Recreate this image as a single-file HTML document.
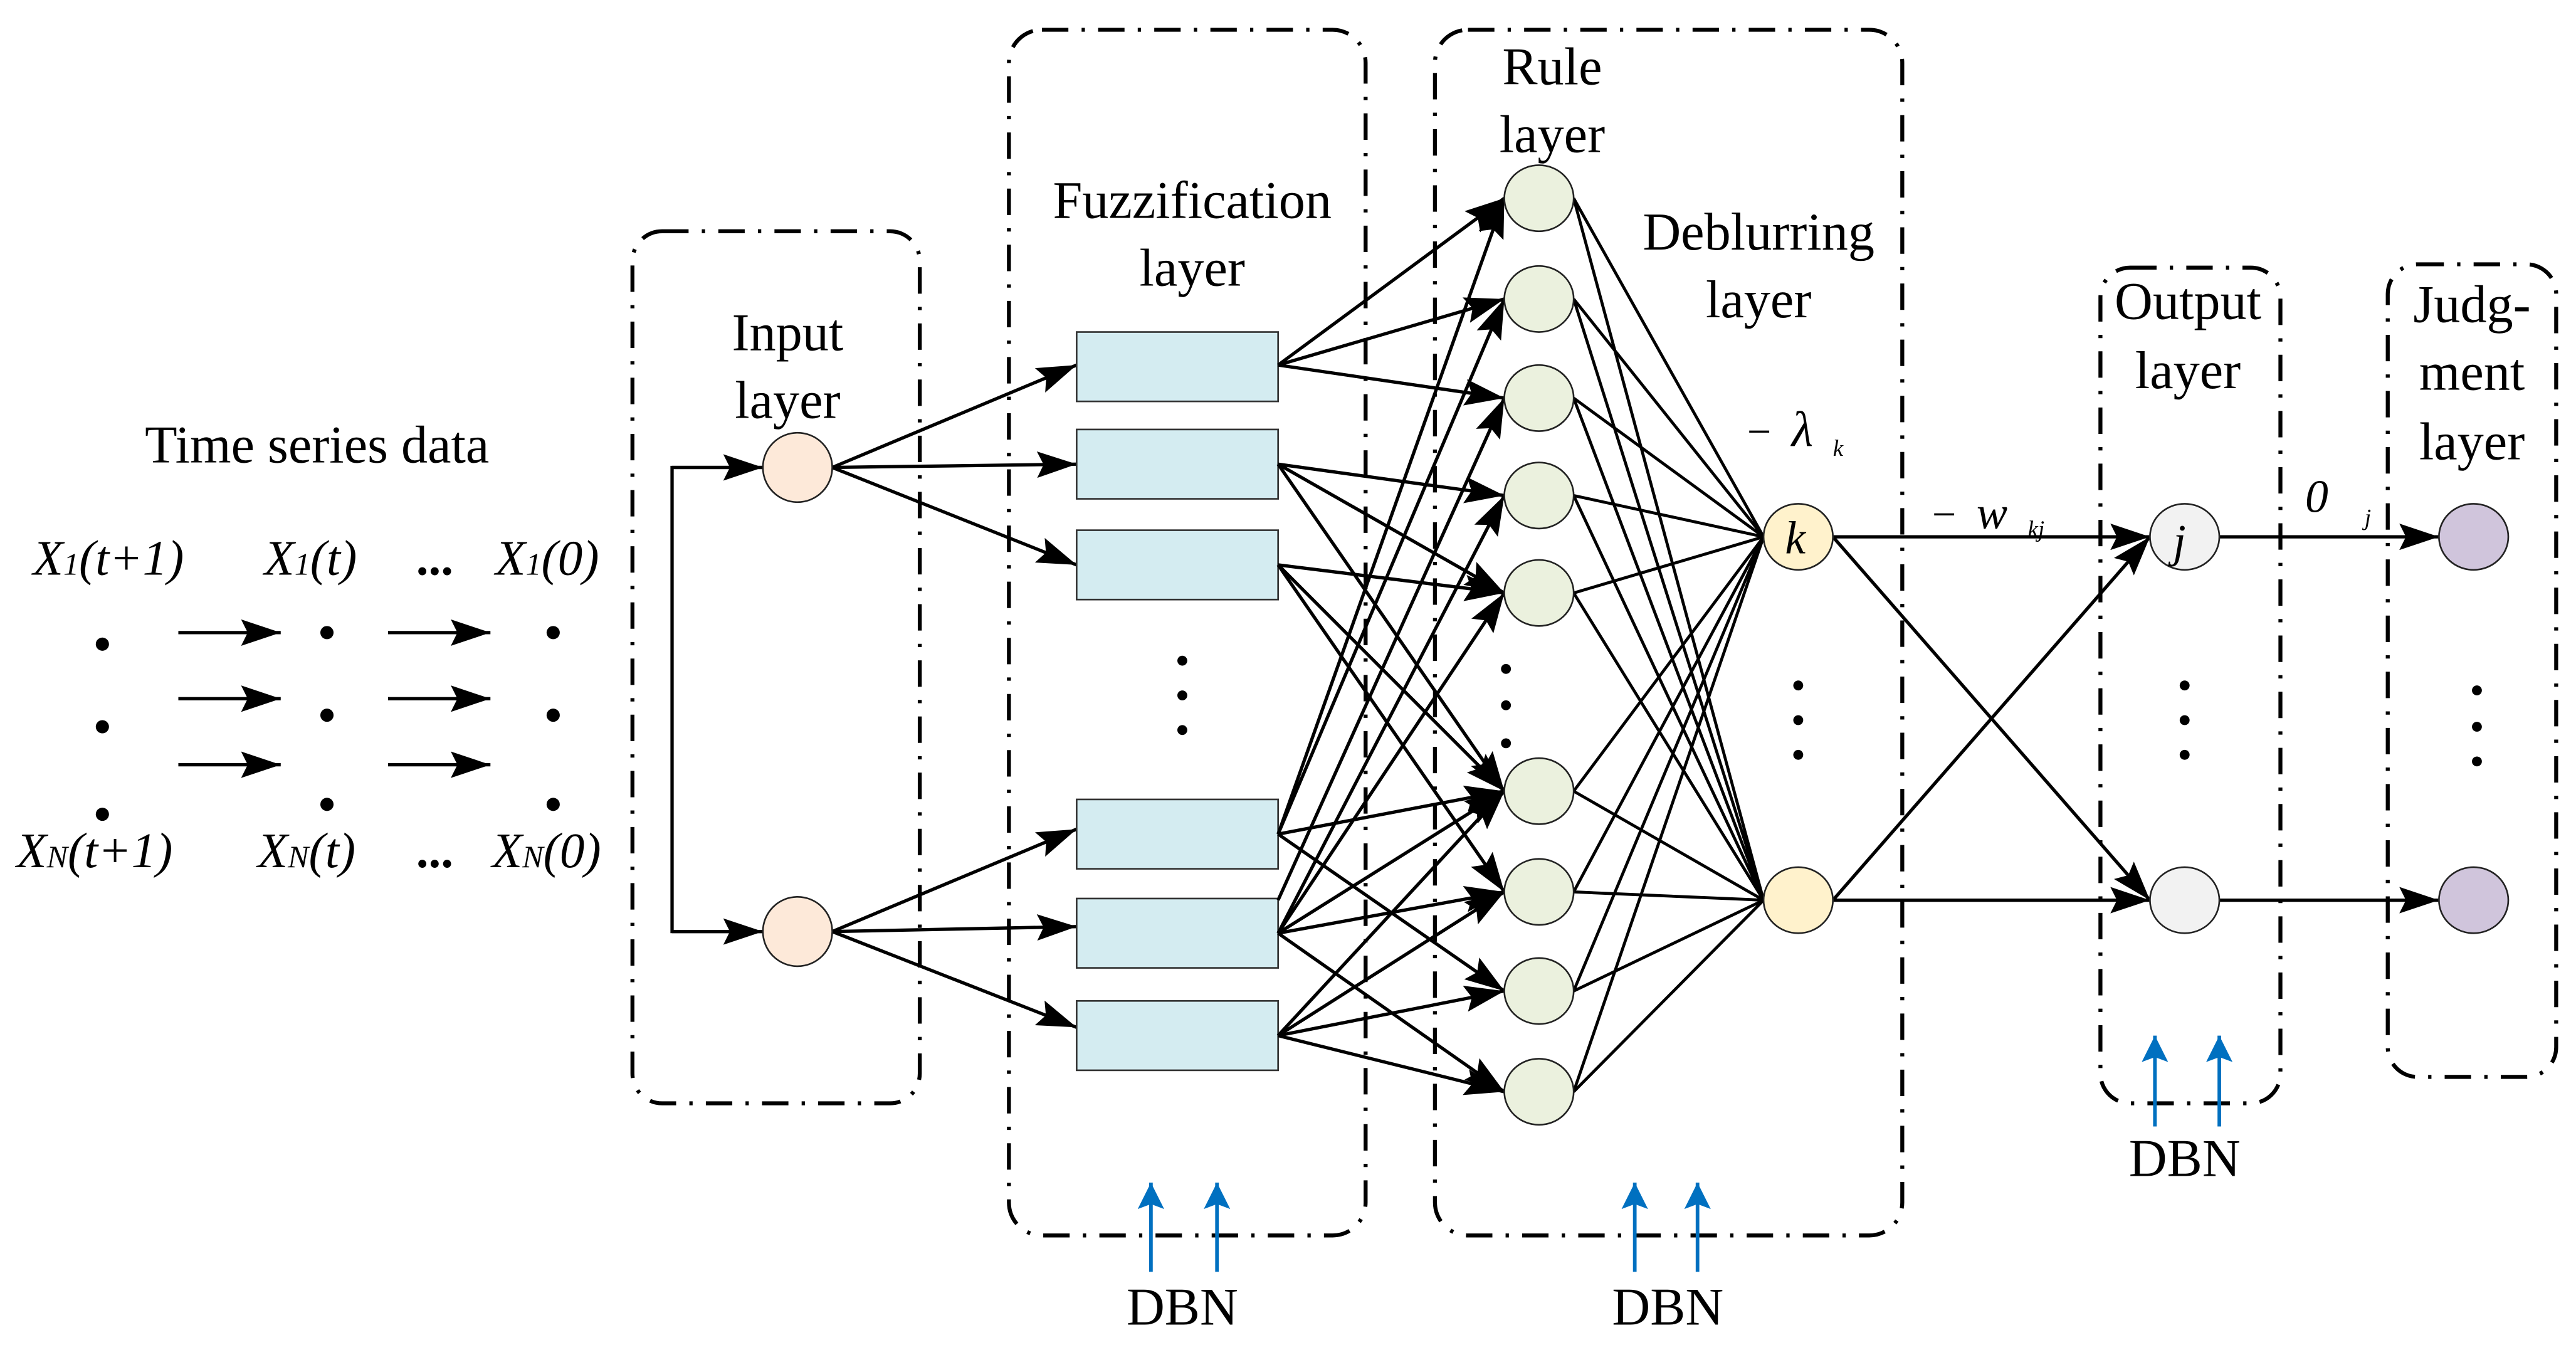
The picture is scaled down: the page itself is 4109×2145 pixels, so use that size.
<!DOCTYPE html>
<html><head><meta charset="utf-8"><style>
html,body{margin:0;padding:0;background:#fff;}
svg{display:block;}
text{font-family:"Liberation Serif",serif;fill:#000;}
</style></head><body>
<svg width="4109" height="2145" viewBox="0 0 1560 814.3" xmlns="http://www.w3.org/2000/svg">
<defs>
<marker id="a" markerUnits="userSpaceOnUse" markerWidth="26" markerHeight="16" refX="24" refY="8" orient="auto">
<path d="M0,0 L24,8 L0,16 L4,8 Z" fill="#000"/></marker>
<marker id="b" markerUnits="userSpaceOnUse" markerWidth="18" markerHeight="16" refX="16" refY="8" orient="auto">
<path d="M0,0 L16,8 L0,16 L3,8 Z" fill="#0070c0"/></marker>
</defs>
<g fill="none" stroke="#000" stroke-width="2.4" stroke-dasharray="16 8 2 8">
<rect x="383" y="140" width="174" height="528" rx="18"/>
<rect x="611" y="18" width="216" height="730" rx="20"/>
<rect x="869" y="18" width="283" height="730" rx="20"/>
<rect x="1272" y="162" width="109" height="506" rx="18"/>
<rect x="1446" y="160" width="102" height="492" rx="18"/>
</g>
<g stroke="#000" stroke-width="2" fill="none">
<line x1="108" y1="383" x2="170" y2="383" marker-end="url(#a)"/>
<line x1="108" y1="423" x2="170" y2="423" marker-end="url(#a)"/>
<line x1="108" y1="463" x2="170" y2="463" marker-end="url(#a)"/>
<line x1="235" y1="383" x2="297" y2="383" marker-end="url(#a)"/>
<line x1="235" y1="423" x2="297" y2="423" marker-end="url(#a)"/>
<line x1="235" y1="463" x2="297" y2="463" marker-end="url(#a)"/>
<polyline points="462,283 407,283 407,564 462,564" />
<line x1="407" y1="283" x2="462" y2="283" marker-end="url(#a)"/>
<line x1="407" y1="564" x2="462" y2="564" marker-end="url(#a)"/>
<line x1="504" y1="283" x2="652" y2="221" marker-end="url(#a)"/>
<line x1="504" y1="283" x2="652" y2="281" marker-end="url(#a)"/>
<line x1="504" y1="283" x2="652" y2="342" marker-end="url(#a)"/>
<line x1="504" y1="564" x2="652" y2="502" marker-end="url(#a)"/>
<line x1="504" y1="564" x2="652" y2="561" marker-end="url(#a)"/>
<line x1="504" y1="564" x2="652" y2="622" marker-end="url(#a)"/>
</g>
<g fill="#d4ecf1" stroke="#333" stroke-width="1">
<rect x="652" y="201" width="122" height="42"/>
<rect x="652" y="260" width="122" height="42"/>
<rect x="652" y="321" width="122" height="42"/>
<rect x="652" y="484" width="122" height="42"/>
<rect x="652" y="544" width="122" height="42"/>
<rect x="652" y="606" width="122" height="42"/>
</g>
<g stroke="#000" stroke-width="2" marker-end="url(#a)">
<line x1="774" y1="221" x2="911" y2="120"/>
<line x1="774" y1="221" x2="911" y2="181"/>
<line x1="774" y1="221" x2="911" y2="241"/>
<line x1="774" y1="281" x2="911" y2="300"/>
<line x1="774" y1="281" x2="911" y2="359"/>
<line x1="774" y1="281" x2="911" y2="479"/>
<line x1="774" y1="342" x2="911" y2="359"/>
<line x1="774" y1="342" x2="911" y2="479"/>
<line x1="774" y1="342" x2="911" y2="540"/>
<line x1="774" y1="505" x2="911" y2="120"/>
<line x1="774" y1="505" x2="911" y2="181"/>
<line x1="774" y1="505" x2="911" y2="479"/>
<line x1="774" y1="505" x2="911" y2="600"/>
<line x1="774" y1="545" x2="911" y2="241"/>
<line x1="774" y1="565" x2="911" y2="300"/>
<line x1="774" y1="565" x2="911" y2="359"/>
<line x1="774" y1="565" x2="911" y2="479"/>
<line x1="774" y1="565" x2="911" y2="540"/>
<line x1="774" y1="565" x2="911" y2="661"/>
<line x1="774" y1="627" x2="911" y2="479"/>
<line x1="774" y1="627" x2="911" y2="540"/>
<line x1="774" y1="627" x2="911" y2="600"/>
<line x1="774" y1="627" x2="911" y2="661"/>
</g>
<g stroke="#000" stroke-width="1.8">
<path d="M953,120 L1068,325 M953,181 L1068,325 M953,241 L1068,325 M953,300 L1068,325 M953,359 L1068,325 M953,479 L1068,325 M953,540 L1068,325 M953,600 L1068,325 M953,661 L1068,325
M953,120 L1068,545 M953,181 L1068,545 M953,241 L1068,545 M953,300 L1068,545 M953,359 L1068,545 M953,479 L1068,545 M953,540 L1068,545 M953,600 L1068,545 M953,661 L1068,545"/>
</g>
<g stroke="#000" stroke-width="2" marker-end="url(#a)">
<line x1="1110" y1="325" x2="1302" y2="325"/>
<line x1="1110" y1="325" x2="1302" y2="545"/>
<line x1="1110" y1="545" x2="1302" y2="325"/>
<line x1="1110" y1="545" x2="1302" y2="545"/>
<line x1="1344" y1="325" x2="1477" y2="325"/>
<line x1="1344" y1="545" x2="1477" y2="545"/>
</g>
<g stroke="#222" stroke-width="1">
<circle cx="483" cy="283" r="21" fill="#fde9d9"/>
<circle cx="483" cy="564" r="21" fill="#fde9d9"/>
<g fill="#ebf1de">
<ellipse cx="932" cy="120" rx="21" ry="20"/>
<ellipse cx="932" cy="181" rx="21" ry="20"/>
<ellipse cx="932" cy="241" rx="21" ry="20"/>
<ellipse cx="932" cy="300" rx="21" ry="20"/>
<ellipse cx="932" cy="359" rx="21" ry="20"/>
<ellipse cx="932" cy="479" rx="21" ry="20"/>
<ellipse cx="932" cy="540" rx="21" ry="20"/>
<ellipse cx="932" cy="600" rx="21" ry="20"/>
<ellipse cx="932" cy="661" rx="21" ry="20"/>
</g>
<ellipse cx="1089" cy="325" rx="21" ry="20" fill="#fff2cc"/>
<ellipse cx="1089" cy="545" rx="21" ry="20" fill="#fff2cc"/>
<ellipse cx="1323" cy="325" rx="21" ry="20" fill="#f2f2f2"/>
<ellipse cx="1323" cy="545" rx="21" ry="20" fill="#f2f2f2"/>
<ellipse cx="1498" cy="325" rx="21" ry="20" fill="#d0c5dc"/>
<ellipse cx="1498" cy="545" rx="21" ry="20" fill="#d0c5dc"/>
</g>
<g fill="#000">
<circle cx="62" cy="390" r="4"/><circle cx="62" cy="440" r="4"/><circle cx="62" cy="493" r="4"/>
<circle cx="198" cy="383" r="4"/><circle cx="198" cy="433" r="4"/><circle cx="198" cy="487" r="4"/>
<circle cx="335" cy="383" r="4"/><circle cx="335" cy="433" r="4"/><circle cx="335" cy="487" r="4"/>
<circle cx="716" cy="400" r="3"/><circle cx="716" cy="421" r="3"/><circle cx="716" cy="442" r="3"/>
<circle cx="912" cy="405" r="3"/><circle cx="912" cy="427" r="3"/><circle cx="912" cy="450" r="3"/>
<circle cx="1089" cy="415" r="3"/><circle cx="1089" cy="436" r="3"/><circle cx="1089" cy="457" r="3"/>
<circle cx="1323" cy="415" r="3"/><circle cx="1323" cy="436" r="3"/><circle cx="1323" cy="457" r="3"/>
<circle cx="1500" cy="418" r="3"/><circle cx="1500" cy="440" r="3"/><circle cx="1500" cy="461" r="3"/>
</g>
<g stroke="#0070c0" stroke-width="2.2" marker-end="url(#b)">
<line x1="697" y1="770" x2="697" y2="716"/>
<line x1="737" y1="770" x2="737" y2="716"/>
<line x1="990" y1="770" x2="990" y2="716"/>
<line x1="1028" y1="770" x2="1028" y2="716"/>
<line x1="1305" y1="682" x2="1305" y2="627"/>
<line x1="1344" y1="682" x2="1344" y2="627"/>
</g>
<g font-size="32" text-anchor="middle">
<text x="192" y="280">Time series data</text>
<text x="477" y="212">Input</text><text x="477" y="253">layer</text>
<text x="722" y="132">Fuzzification</text><text x="722" y="173">layer</text>
<text x="940" y="51">Rule</text><text x="940" y="92">layer</text>
<text x="1065" y="151">Deblurring</text><text x="1065" y="192">layer</text>
<text x="1325" y="193">Output</text><text x="1325" y="235">layer</text>
<text x="1497" y="195">Judg-</text><text x="1497" y="236">ment</text><text x="1497" y="278">layer</text>
<text x="716" y="802">DBN</text>
<text x="1010" y="802">DBN</text>
<text x="1323" y="712">DBN</text>
</g>
<g font-size="30" font-style="italic">
<text x="20" y="348">X<tspan font-size="19">1</tspan>(t+1)</text>
<text x="160" y="348">X<tspan font-size="19">1</tspan>(t)</text>
<text x="252" y="348" font-style="normal" font-weight="bold">...</text>
<text x="300" y="348">X<tspan font-size="19">1</tspan>(0)</text>
<text x="10" y="525">X<tspan font-size="19">N</tspan>(t+1)</text>
<text x="156" y="525">X<tspan font-size="19">N</tspan>(t)</text>
<text x="252" y="525" font-style="normal" font-weight="bold">...</text>
<text x="298" y="525">X<tspan font-size="19">N</tspan>(0)</text>
<text x="1081" y="335" font-size="28">k</text>
<text x="1316" y="337" font-size="28">j</text>
<text x="1058" y="270" font-style="normal" font-size="26">−</text>
<text x="1085" y="270" font-size="30">λ</text>
<text x="1110" y="276" font-size="14">k</text>
<text x="1170" y="320" font-style="normal" font-size="26">−</text>
<text x="1197" y="320" font-size="28">w</text>
<text x="1228" y="325" font-size="14">kj</text>
<text x="1396" y="310" font-size="28">0</text>
<text x="1432" y="318" font-size="14">j</text>
</g>
</svg>
</body></html>
